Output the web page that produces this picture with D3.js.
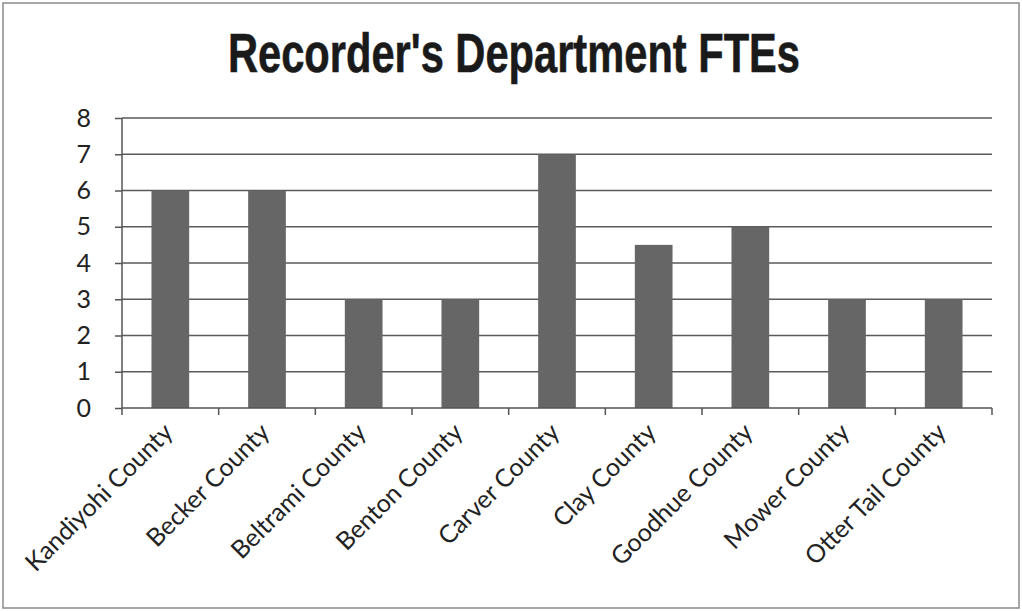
<!DOCTYPE html>
<html>
<head>
<meta charset="utf-8">
<script src="https://cdn.jsdelivr.net/npm/d3@7"></script>
<style>
  body { margin: 0; background: #fff; }
  svg { display: block; }
</style>
</head>
<body>
<div id="chart"></div>
<script>
const svgWidth = 1022;
const svgHeight = 611;

// data
const counties = ["Kandiyohi County", "Becker County", "Beltrami County", "Benton County",
  "Carver County", "Clay County", "Goodhue County", "Mower County", "Otter Tail County"];
const ftes = [6, 6, 3, 3, 7, 4.5, 5, 3, 3];
const yTicks = [0, 1, 2, 3, 4, 5, 6, 7, 8];

const margin = { top: 118, right: 30, bottom: 203, left: 122 };
const width = svgWidth - margin.left - margin.right;
const height = svgHeight - margin.top - margin.bottom;

const svg = d3.select("#chart")
  .append("svg")
  .attr("width", svgWidth)
  .attr("height", svgHeight);

// outer frame
svg.append("rect")
  .attr("x", 3).attr("y", 3)
  .attr("width", svgWidth - 6).attr("height", svgHeight - 6)
  .attr("fill", "#fff")
  .attr("stroke", "#8a8a8a")
  .attr("stroke-width", 1.5);

svg.append("text")
  .attr("x", 514)
  .attr("y", 72)
  .attr("text-anchor", "middle")
  .attr("textLength", 572)
  .attr("lengthAdjust", "spacingAndGlyphs")
  .style("font-family", "'Liberation Sans Narrow', 'Liberation Sans', Arial, sans-serif")
  .style("font-weight", "bold")
  .style("font-size", "55px")
  .style("fill", "#1a1a1a")
  .style("stroke", "#1a1a1a")
  .style("stroke-width", 0.6)
  .text("Recorder's Department FTEs");

const chartGroup = svg.append("g")
  .attr("transform", `translate(${margin.left}, ${margin.top})`);

const xScale = d3.scaleBand()
  .domain(counties)
  .range([0, width])
  .paddingInner(0.61)
  .paddingOuter(0.305);

const yScale = d3.scaleLinear()
  .domain([0, 8])
  .range([height, 0]);

// gridlines
chartGroup.append("g")
  .selectAll("line")
  .data(yTicks.filter(d => d > 0))
  .enter()
  .append("line")
  .attr("x1", 0)
  .attr("x2", width)
  .attr("y1", d => yScale(d))
  .attr("y2", d => yScale(d))
  .attr("stroke", "#5a5a5a")
  .attr("stroke-width", 1.5);

// bars
chartGroup.selectAll("rect.bar")
  .data(counties)
  .enter()
  .append("rect")
  .attr("class", "bar")
  .attr("x", d => xScale(d))
  .attr("y", (d, i) => yScale(ftes[i]))
  .attr("width", xScale.bandwidth())
  .attr("height", (d, i) => height - yScale(ftes[i]))
  .attr("fill", "#666");

// y axis
const leftAxis = d3.axisLeft(yScale)
  .tickValues(yTicks)
  .tickSize(7)
  .tickPadding(24);

const yAxis = chartGroup.append("g")
  .call(leftAxis);
yAxis.select(".domain").attr("stroke", "#555").attr("stroke-width", 1.5)
  .attr("d", `M0,${height}V0`);
yAxis.selectAll(".tick line").attr("stroke", "#555").attr("stroke-width", 1.5);
yAxis.selectAll(".tick text")
  .style("font-family", "Lato, 'Open Sans', sans-serif")
  .style("font-size", "25px")
  .style("fill", "#222");

// x axis: ticks between categories
const step = xScale.step();
const xAxisG = chartGroup.append("g")
  .attr("transform", `translate(0, ${height})`);
xAxisG.append("line")
  .attr("x1", 0).attr("x2", width)
  .attr("y1", 0).attr("y2", 0)
  .attr("stroke", "#555").attr("stroke-width", 1.5);
xAxisG.selectAll("line.tick")
  .data(d3.range(counties.length + 1))
  .enter()
  .append("line")
  .attr("class", "tick")
  .attr("x1", d => d * step)
  .attr("x2", d => d * step)
  .attr("y1", 0)
  .attr("y2", 7)
  .attr("stroke", "#555").attr("stroke-width", 1.5);

xAxisG.selectAll("text")
  .data(counties)
  .enter()
  .append("text")
  .attr("transform", d => `translate(${xScale(d) + xScale.bandwidth() / 2 + 4}, 26) rotate(-45)`)
  .attr("text-anchor", "end")
  .style("font-family", "Lato, 'Open Sans', sans-serif")
  .style("font-size", "25px")
  .style("fill", "#222")
  .text(d => d);
</script>
</body>
</html>
